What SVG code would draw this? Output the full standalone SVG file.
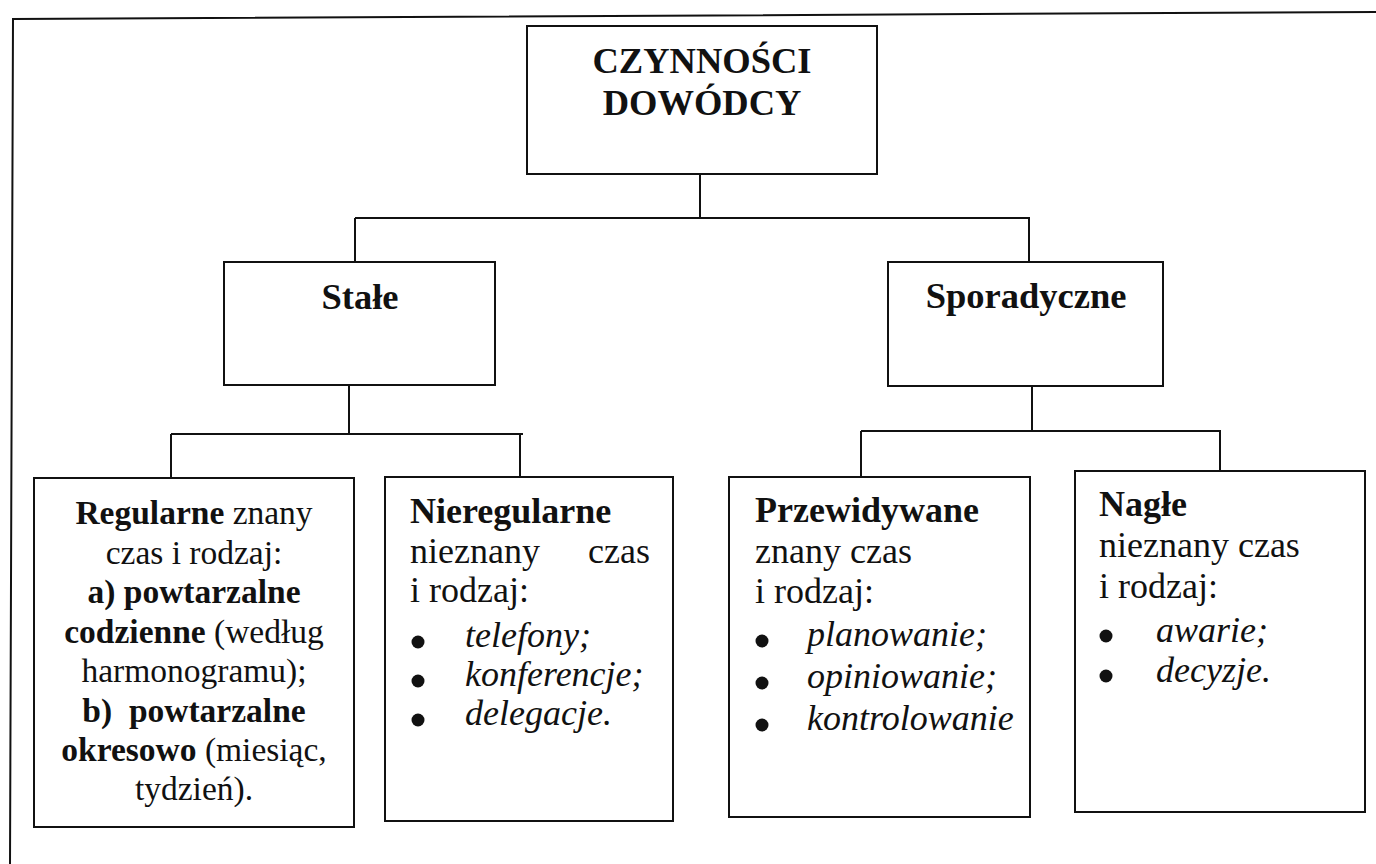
<svg xmlns="http://www.w3.org/2000/svg" width="1376" height="864" viewBox="0 0 1376 864">
<style>
  .box { fill: #ffffff; stroke: #111111; stroke-width: 2; }
  .conn { fill: none; stroke: #111111; stroke-width: 2; }
  text { font-family: "Liberation Serif", "Times New Roman", serif; fill: #111111; }
  .hdr { font-size: 36.5px; font-weight: bold; }
  .body { font-size: 36px; }
  .small { font-size: 33.5px; }
  .b { font-weight: bold; }
  .i { font-style: italic; }
  .dot { fill: #111111; }
</style>
<rect x="0" y="0" width="1376" height="864" fill="#ffffff"/>
<polyline class="conn" points="10,864 13,19 1376,12"/>

<g id="connectors">
  <path class="conn" d="M700,174 V218 M355,218 H1030 M355,218 V262 M1029,218 V262"/>
  <path class="conn" d="M349,385 V434 M171,434 H523 M171,434 V478 M520,434 V477"/>
  <path class="conn" d="M1032,386 V431 M861,431 H1221 M861,431 V477 M1220,431 V471"/>
</g>

<g id="root">
  <rect class="box" x="527" y="26" width="350" height="148"/>
  <text class="hdr" x="702" y="73" text-anchor="middle">CZYNNOŚCI</text>
  <text class="hdr" x="702" y="115" text-anchor="middle">DOWÓDCY</text>
</g>

<g id="stale">
  <rect class="box" x="224" y="262" width="271" height="123"/>
  <text class="hdr" x="360" y="309" text-anchor="middle">Stałe</text>
</g>

<g id="sporadyczne">
  <rect class="box" x="888" y="262" width="275" height="124"/>
  <text class="hdr" x="1026" y="308" text-anchor="middle">Sporadyczne</text>
</g>

<g id="regularne">
  <rect class="box" x="34" y="478" width="320" height="349"/>
  <text class="small" x="194" y="524" text-anchor="middle" font-size="35.5"><tspan class="b">Regularne</tspan> znany</text>
  <text class="small" x="194" y="564" text-anchor="middle">czas i rodzaj:</text>
  <text class="small b" x="194" y="603" text-anchor="middle">a) powtarzalne</text>
  <text class="small" x="194" y="643" text-anchor="middle"><tspan class="b">codzienne</tspan> (według</text>
  <text class="small" x="194" y="682" text-anchor="middle">harmonogramu);</text>
  <text class="small b" x="194" y="722" text-anchor="middle" style="white-space:pre">b)  powtarzalne</text>
  <text class="small" x="194" y="761" text-anchor="middle"><tspan class="b">okresowo</tspan> (miesiąc,</text>
  <text class="small" x="194" y="800" text-anchor="middle">tydzień).</text>
</g>

<g id="nieregularne">
  <rect class="box" x="385" y="477" width="288" height="344"/>
  <text class="body b" x="410" y="523">Nieregularne</text>
  <text class="body" y="563"><tspan x="410">nieznany</tspan><tspan x="588">czas</tspan></text>
  <text class="body" x="410" y="602">i rodzaj:</text>
  <circle class="dot" cx="418" cy="642" r="6.5"/>
  <circle class="dot" cx="418" cy="681" r="6.5"/>
  <circle class="dot" cx="418" cy="720" r="6.5"/>
  <text class="body i" x="465" y="647">telefony;</text>
  <text class="body i" x="465" y="686">konferencje;</text>
  <text class="body i" x="465" y="725">delegacje.</text>
</g>

<g id="przewidywane">
  <rect class="box" x="729" y="477" width="301" height="340"/>
  <text class="body b" x="755" y="522">Przewidywane</text>
  <text class="body" x="755" y="563">znany czas</text>
  <text class="body" x="755" y="603">i rodzaj:</text>
  <circle class="dot" cx="762" cy="641" r="6.5"/>
  <circle class="dot" cx="762" cy="683" r="6.5"/>
  <circle class="dot" cx="762" cy="725" r="6.5"/>
  <text class="body i" x="807" y="646">planowanie;</text>
  <text class="body i" x="807" y="688">opiniowanie;</text>
  <text class="body i" x="807" y="730">kontrolowanie</text>
</g>

<g id="nagle">
  <rect class="box" x="1075" y="471" width="290" height="341"/>
  <text class="body b" x="1099" y="516">Nagłe</text>
  <text class="body" x="1099" y="557">nieznany czas</text>
  <text class="body" x="1099" y="598">i rodzaj:</text>
  <circle class="dot" cx="1106" cy="636" r="6.5"/>
  <circle class="dot" cx="1106" cy="676" r="6.5"/>
  <text class="body i" x="1156" y="642">awarie;</text>
  <text class="body i" x="1156" y="682">decyzje.</text>
</g>
</svg>
